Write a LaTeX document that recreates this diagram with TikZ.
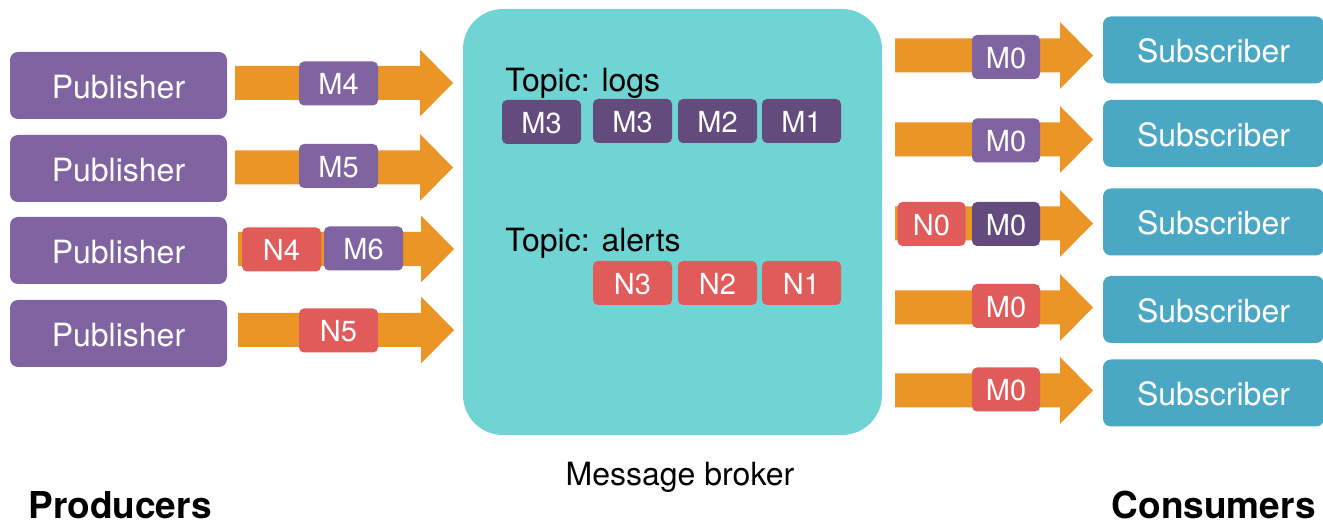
\documentclass[tikz,border=0pt]{standalone}
\usepackage{fontspec}
\setmainfont{TeX Gyre Heros}
\usetikzlibrary{calc}
\definecolor{pubc}{RGB}{128,99,161}
\definecolor{darkc}{RGB}{99,75,125}
\definecolor{redc}{RGB}{226,91,91}
\definecolor{orc}{RGB}{234,149,37}
\definecolor{brokc}{RGB}{112,212,212}
\definecolor{subc}{RGB}{74,168,196}
\tikzset{
  box/.style={rectangle, rounded corners=4pt, inner sep=0pt, text=white,
    font=\fontsize{16}{19}\selectfont, text height=13pt, text depth=0pt},
  pubbox/.style={box, fill=pubc, minimum width=108.5pt, minimum height=33.5pt},
  subbox/.style={box, fill=subc, minimum width=110.5pt, minimum height=33.5pt},
  msg/.style={rectangle, rounded corners=2.5pt, inner sep=0pt, text=white,
    font=\fontsize{14.5}{17}\selectfont, text height=11.3pt, text depth=0pt,
    minimum height=22pt},
  msgw/.style={msg, minimum width=39.5pt},
  msgn/.style={msg, minimum width=34pt},
  broker/.style={rectangle, rounded corners=20pt, fill=brokc, inner sep=0pt,
    minimum width=209.5pt, minimum height=213pt},
  label/.style={inner sep=0pt, font=\fontsize{16}{19}\selectfont},
  biglabel/.style={inner sep=0pt, font=\fontsize{18.5}{22}\bfseries\selectfont},
  blockarrow/.style={fill=orc}
}
\newcommand\barrow[2]{%
  \fill[blockarrow] ($(#1)+(0,-17)$) -- ($(#2)+(-33,-17)$) -- ($(#2)+(-33,-33.5)$)
    -- (#2) -- ($(#2)+(-33,33.5)$) -- ($(#2)+(-33,17)$) -- ($(#1)+(0,17)$) -- cycle;}
\begin{document}
\begin{tikzpicture}[x=0.5pt,y=-0.5pt]
\useasboundingbox (0,0) rectangle (1323,523);
\clip (0,0) rectangle (1323,523);

% broker
\node[broker] (broker) at (672.5,222) {};

% publishers
\node[pubbox] (pub1) at (118.5,85.5) {Publisher};
\node[pubbox] (pub2) at (118.5,168.5) {Publisher};
\node[pubbox] (pub3) at (118.5,250.5) {Publisher};
\node[pubbox] (pub4) at (118.5,333.5) {Publisher};

% left arrows
\coordinate (la1s) at (235,83);    \coordinate (la1e) at (453,83);
\coordinate (la2s) at (235,167.5); \coordinate (la2e) at (453,167.5);
\coordinate (la3s) at (238,249);   \coordinate (la3e) at (454,249);
\coordinate (la4s) at (238,330);   \coordinate (la4e) at (454,330);
\barrow{la1s}{la1e}
\barrow{la2s}{la2e}
\barrow{la3s}{la3e}
\barrow{la4s}{la4e}

\node[msgw, fill=pubc] (m4) at (338.5,83.5) {M4};
\node[msgw, fill=pubc] (m5) at (338.5,166) {M5};
\node[msgw, fill=redc] (n4) at (281.5,249.5) {N4};
\node[msgw, fill=pubc] (m6) at (363.5,248.5) {M6};
\node[msgw, fill=redc] (n5) at (338.5,330.5) {N5};

% topics
\node[label, anchor=base west] (tlogs) at (505,92) {Topic: logs};
\node[msgw, fill=darkc] (lm3a) at (541.5,122) {M3};
\node[msgw, fill=darkc] (lm3b) at (632.5,121) {M3};
\node[msgw, fill=darkc] (lm2) at (717.5,121) {M2};
\node[msgw, fill=darkc] (lm1) at (801.5,121) {M1};

\node[label, anchor=base west] (talerts) at (505,252) {Topic: alerts};
\node[msgw, fill=redc] (an3) at (632.5,283) {N3};
\node[msgw, fill=redc] (an2) at (717.5,283) {N2};
\node[msgw, fill=redc] (an1) at (801.5,283) {N1};

% right arrows
\coordinate (ra1s) at (895,55.5);  \coordinate (ra1e) at (1093,55.5);
\coordinate (ra2s) at (895,139.5); \coordinate (ra2e) at (1093,139.5);
\coordinate (ra3s) at (895,223.5); \coordinate (ra3e) at (1093,223.5);
\coordinate (ra4s) at (895,307.5); \coordinate (ra4e) at (1093,307.5);
\coordinate (ra5s) at (895,390.5); \coordinate (ra5e) at (1093,390.5);
\barrow{ra1s}{ra1e}
\barrow{ra2s}{ra2e}
\barrow{ra3s}{ra3e}
\barrow{ra4s}{ra4e}
\barrow{ra5s}{ra5e}

\node[msgn, fill=pubc] (r1) at (1006,57) {M0};
\node[msgn, fill=pubc] (r2) at (1006,140.5) {M0};
\node[msgn, fill=redc] (r3n) at (931.5,224) {N0};
\node[msgn, fill=darkc] (r3m) at (1006,224) {M0};
\node[msgn, fill=redc] (r4) at (1006,306) {M0};
\node[msgn, fill=redc] (r5) at (1006,389.5) {M0};

% subscribers
\node[subbox] (sub1) at (1213.5,50) {Subscriber};
\node[subbox] (sub2) at (1213.5,133.5) {Subscriber};
\node[subbox] (sub3) at (1213.5,222) {Subscriber};
\node[subbox] (sub4) at (1213.5,309.5) {Subscriber};
\node[subbox] (sub5) at (1213.5,393) {Subscriber};

% labels
\node[label, anchor=base] (brokerlabel) at (680,486) {Message broker};
\node[biglabel, anchor=base west] (producers) at (28,518) {Producers};
\node[biglabel, anchor=base east] (consumers) at (1316,518) {Consumers};
\end{tikzpicture}
\end{document}
